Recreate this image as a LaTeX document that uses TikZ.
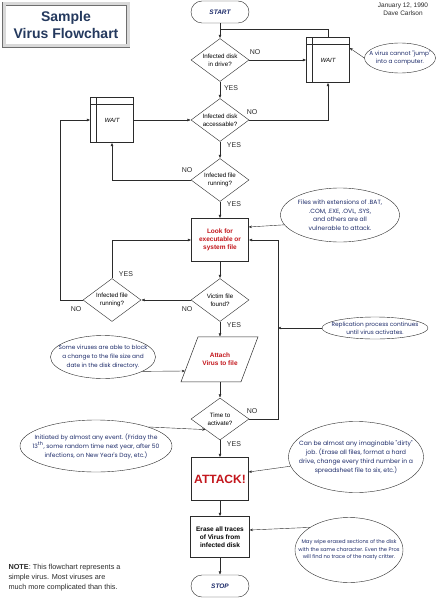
\documentclass[tikz,border=0pt]{standalone}
\usepackage{fontspec}
\setmainfont{Liberation Sans}
\newfontfamily\comicfont{Poppins}
\usepackage{tikz}
\usetikzlibrary{arrows.meta,shapes.geometric,calc}
\definecolor{ink}{HTML}{2B2B2B}
\definecolor{navy}{HTML}{1F2D6B}
\definecolor{slate}{HTML}{24395E}
\definecolor{alarm}{HTML}{C3161C}
\definecolor{frame}{HTML}{6E6E6E}
\newcommand{\fs}[2]{\fontsize{#1}{#2}\selectfont}
\tikzset{>=Latex,
 conn/.style={draw=ink,line width=.5pt},
 arr/.style={conn,-{Latex[length=3.4pt,width=2.8pt]}},
 hint/.style={draw=ink,line width=.4pt,-{Stealth[length=3.2pt,width=2.6pt]}},
 term/.style={draw=ink,rounded corners=11pt,minimum width=58pt,minimum height=22pt,inner sep=0pt,text=navy,font=\fs{6.5}{8}\bfseries\itshape},
 ask/.style={draw=ink,diamond,aspect=1.33,inner sep=-4pt,minimum width=58pt,minimum height=43pt,align=center,font=\fs{6.2}{7.8}},
 stepbox/.style={draw=ink,minimum width=57pt,minimum height=43pt,inner sep=1pt,align=center,font=\fs{6.5}{7.7}\bfseries},
 waitbox/.style={draw=ink,minimum width=43pt,minimum height=45pt,font=\fs{6}{7}\itshape,
  path picture={\draw[ink,line width=.5pt] ([xshift=6pt]path picture bounding box.north west)--([xshift=6pt]path picture bounding box.south west);
   \draw[ink,line width=.5pt] ([yshift=-6.5pt]path picture bounding box.north west)--([yshift=-6.5pt]path picture bounding box.north east);}},
 callout/.style={draw=ink,line width=.4pt,ellipse,fill=white,inner sep=-30pt,align=center,text=navy,font=\comicfont\fs{5.8}{7.7}},
 lbl/.style={font=\fs{7}{8},text=ink,inner sep=0pt}}
\begin{document}
\begin{tikzpicture}[x=1pt,y=-1pt]
\fill[white] (0,0) rectangle (441,599);
\useasboundingbox (0,0) rectangle (441,599);
% heading and remarks
\node[draw=frame,line width=.5pt,double=gray!30,double distance=3pt,minimum width=124pt,minimum height=42pt,inner sep=0pt,align=center,text=slate,font=\fs{14}{16.5}\bfseries] (title) at (66,25) {Sample\\Virus Flowchart};
\node[align=center,font=\fs{6.5}{8},text=ink] (date) at (403,9) {January 12, 1990\\Dave Carlson};
\node[anchor=north west,align=left,font=\fs{7.3}{10},text=ink] (remark) at (5,561) {\textbf{NOTE}: This flowchart represents a\\simple virus. Most viruses are\\much more complicated than this.};
% main column
\node[term] (start) at (220,12) {START};
\node[ask] (qdrive) at (220,60) {Infected disk\\in drive?};
\node[waitbox] (wait1) at (328,60) {WAIT};
\node[ask] (qaccess) at (220,120) {Infected disk\\accessable?};
\node[waitbox] (wait2) at (112,120) {WAIT};
\node[ask] (qrun1) at (220,180) {Infected file\\running?};
\node[stepbox,text=alarm] (look) at (220,240) {Look for\\executable or\\system file};
\node[ask] (qfound) at (220,300) {Victim file\\found?};
\node[ask] (qrun2) at (112,300) {Infected file\\running?};
\node[align=center,font=\fs{6.5}{7.7}\bfseries,text=alarm,minimum width=60pt,minimum height=45pt,inner sep=0pt] (attach) at (220,359.5) {Attach\\Virus to file};
\draw[ink,line width=.5pt] (attach.north) ++(-22,0) -- ++(60,0) -- ++(-17,45) -- ++(-60,0) -- cycle;
\node[ask,minimum height=42pt] (qtime) at (220,419) {Time to\\activate?};
\node[stepbox,text=alarm,font=\fs{12}{14}\bfseries] (attack) at (220,479) {ATTACK!};
\node[stepbox,minimum width=59pt,minimum height=41pt] (erase) at (220,537) {Erase all traces\\of Virus from\\infected disk};
\node[term] (stop) at (220,586) {STOP};
% flow
\coordinate (rejoin) at (220,29);
\coordinate (leftrail) at (60,300);
\coordinate (rightrail) at (278,419);
\coordinate (replhit) at (278,328);
\draw[arr] (start) -- (qdrive);
\draw[conn] (wait1.north) |- (rejoin);
\draw[arr] (qdrive) -- (wait1);
\draw[arr] (qdrive) -- (qaccess);
\draw[arr] (qaccess.east) -| (wait1.south);
\draw[arr] (wait2) -- (qaccess);
\draw[arr] (qaccess) -- (qrun1);
\draw[arr] (qrun1.west) -| (wait2.south);
\draw[arr] (qrun1) -- (look);
\draw[arr] (look) -- (qfound);
\draw[arr] (qfound) -- (qrun2);
\draw[arr] (qrun2.north) |- (look.west);
\draw[arr] (qrun2.west) -- (leftrail) |- (wait2.west);
\draw[arr] (qfound) -- (attach);
\draw[arr] (attach) -- (qtime);
\draw[arr] (qtime.east) -- (rightrail) |- (look.east);
\draw[arr] (qtime) -- (attack);
\draw[arr] (attack) -- (erase);
\draw[arr] (erase) -- (stop);
% yes / no
\node[lbl] (no1) at (255,52) {NO};
\node[lbl] (yes1) at (231,88) {YES};
\node[lbl] (no2) at (252,112) {NO};
\node[lbl] (yes2) at (234,145) {YES};
\node[lbl] (no3) at (187,170) {NO};
\node[lbl] (yes3) at (234,204) {YES};
\node[lbl] (yes4) at (126,274) {YES};
\node[lbl] (no4) at (76,309) {NO};
\node[lbl] (no5) at (187,309) {NO};
\node[lbl] (yes5) at (234,325) {YES};
\node[lbl] (no6) at (252,411) {NO};
\node[lbl] (yes6) at (234,444) {YES};
% callouts
\node[callout,minimum width=71pt,minimum height=30pt] (njump) at (400,58) {A virus cannot "jump"\\into a computer.};
\node[callout,minimum width=119pt,minimum height=54pt,font=\comicfont\fs{6.1}{8.6}] (nfiles) at (340,215) {Files with extensions of .BAT,\\.COM, .EXE, .OVL, .SYS,\\and others are all\\vulnerable to attack.};
\node[callout,minimum width=106pt,minimum height=22pt,font=\comicfont\fs{5.8}{8}] (nrepl) at (375,328) {Replication process continues\\until virus activates.};
\node[callout,minimum width=105pt,minimum height=43pt,font=\comicfont\fs{5.8}{8.8}] (nblock) at (103,357) {Some viruses are able to block\\a change to the file size and\\date in the disk directory.};
\node[callout,minimum width=152pt,minimum height=52pt,font=\comicfont\fs{6}{9}] (nevent) at (96,446) {Initiated by almost any event. (Friday the\\13\textsuperscript{th}, some random time next year, after 50\\infections, on New Year's Day, etc.)};
\node[callout,minimum width=135pt,minimum height=71pt,font=\comicfont\fs{6.1}{9}] (ndirty) at (356,457) {Can be almost any imaginable "dirty"\\job. (Erase all files, format a hard\\drive, change every third number in a\\spreadsheet file to six, etc.)};
\node[callout,minimum width=108pt,minimum height=65pt,font=\comicfont\fs{5.2}{7.5}] (nwipe) at (349,550) {May wipe erased sections of the disk\\with the same character. Even the Pros\\will find no trace of the nasty critter.};
\draw[hint] (njump.west) -- ([yshift=12pt]wait1.east);
\draw[hint] (nfiles.190) -- ([yshift=13pt]look.east);
\draw[hint] (nrepl.west) -- (replhit);
\draw[hint] (nblock.-20) -- ($(attach.center)+(-35,11.5)$);
\draw[hint] (nevent.20) -- (qtime.south west);
\draw[hint] (ndirty.188) -- ([yshift=7pt]attack.east);
\draw[hint] (nwipe.150) -- ([yshift=7pt]erase.east);
\end{tikzpicture}
\end{document}
